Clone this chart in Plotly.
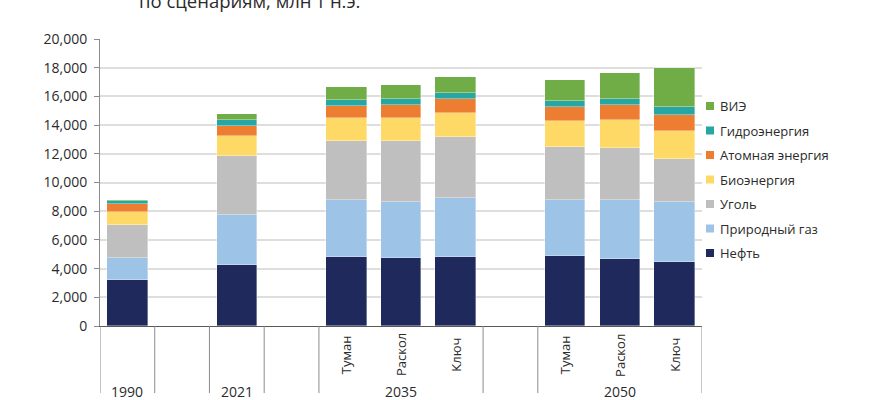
import plotly.graph_objects as go

# ---- data ----
slot_groups = ["1990", "", "2021", "", "2035", "2035", "2035", "", "2050", "2050", "2050"]
slot_subs = ["", "", "", "", "Туман", "Раскол", "Ключ", "", "Туман", "Раскол", "Ключ"]
bar_slots = [0, 2, 4, 5, 6, 8, 9, 10]

series_names = ["Нефть", "Природный газ", "Уголь", "Биоэнергия",
                "Атомная энергия", "Гидроэнергия", "ВИЭ"]
oil = [3210, 4280, 4810, 4745, 4815, 4885, 4675, 4490]
gas = [1560, 3465, 3950, 3930, 4140, 3885, 4095, 4185]
coal = [2300, 4090, 4140, 4235, 4235, 3675, 3605, 2975]
bio = [880, 1420, 1600, 1605, 1675, 1815, 2000, 1930]
nuclear = [560, 650, 815, 885, 975, 1000, 1025, 1140]
hydro = [210, 420, 465, 440, 420, 395, 440, 535]
renew = [70, 440, 860, 955, 1070, 1465, 1770, 2745]
series_values = [oil, gas, coal, bio, nuclear, hydro, renew]

title_text = "по сценариям, млн т н.э."

# ---- style ----
colors = ["#20295b", "#9dc3e6", "#bfbfbf", "#ffd966", "#ed7d31", "#26a7a4", "#70ad47"]
W, H = 870, 400
ML, MR, MT, MB = 100, 168, 39, 74
PW, PH = W - ML - MR, H - MT - MB
FONT = "Open Sans"
TXT = "#2b2b2b"


def xp(px):
    return (px - ML) / PW


def yp(py):
    return (H - MB - py) / PH


fig = go.Figure()
for name, vals, col in zip(series_names, series_values, colors):
    fig.add_trace(go.Bar(
        x=bar_slots, y=vals, name=name, width=0.74,
        marker=dict(color=col, line=dict(color="rgba(255,255,255,0.6)", width=0.6)),
        showlegend=False,
    ))

shapes = []
annotations = []

# group separators and labels
n = len(slot_groups)
bounds = [-0.5]
for i in range(1, n):
    if slot_groups[i] != slot_groups[i - 1] or slot_groups[i] == "":
        bounds.append(i - 0.5)
bounds.append(n - 0.5)
for b in bounds:
    shapes.append(dict(type="line", xref="x", yref="paper", x0=b, x1=b,
                       y0=0, y1=yp(393), line=dict(color="#8c8c8c", width=1)))

seen = set()
for g in slot_groups:
    if g == "" or g in seen:
        continue
    seen.add(g)
    idx = [i for i, s in enumerate(slot_groups) if s == g]
    annotations.append(dict(x=(idx[0] + idx[-1]) / 2, y=yp(392), xref="x", yref="paper",
                            text=g, showarrow=False, xanchor="center", yanchor="middle",
                            font=dict(family=FONT, size=14, color=TXT)))
for i, s in enumerate(slot_subs):
    if s:
        annotations.append(dict(x=i, y=yp(355), xref="x", yref="paper", text=s,
                                textangle=-90, showarrow=False, xanchor="center",
                                yanchor="middle", font=dict(family=FONT, size=13, color=TXT)))

# legend (top item first)
leg_top = 106
leg_step = 24.5
for k, (name, col) in enumerate(zip(reversed(series_names), reversed(colors))):
    cy = leg_top + k * leg_step
    shapes.append(dict(type="rect", xref="paper", yref="paper",
                       x0=xp(706), x1=xp(714), y0=yp(cy + 4), y1=yp(cy - 4),
                       fillcolor=col, line=dict(width=0)))
    annotations.append(dict(x=xp(718), y=yp(cy), xref="paper", yref="paper", text=name,
                            showarrow=False, xanchor="left", yanchor="middle",
                            font=dict(family=FONT, size=13, color=TXT)))

# title (cut at the top as in the reference)
annotations.append(dict(x=xp(249), y=yp(1), xref="paper", yref="paper", text=title_text,
                        showarrow=False, xanchor="center", yanchor="middle",
                        font=dict(family=FONT, size=18.5, color=TXT)))

fig.update_layout(
    width=W, height=H,
    margin=dict(l=ML, r=MR, t=MT, b=MB, pad=0),
    barmode="stack", bargap=0,
    plot_bgcolor="white", paper_bgcolor="white",
    showlegend=False,
    shapes=shapes, annotations=annotations,
    xaxis=dict(range=[-0.5, n - 0.5], showticklabels=False, ticks="", showgrid=False,
               zeroline=False, showline=True, linecolor="#595959", linewidth=1.2,
               fixedrange=True),
    yaxis=dict(range=[0, 20000], dtick=2000, tickformat=",d", showgrid=True,
               gridcolor="#dedede", gridwidth=1.5, zeroline=False, showline=True,
               linecolor="#8c8c8c", linewidth=1, ticks="outside", ticklen=5,
               ticklabelstandoff=4,
               tickcolor="#8c8c8c", tickfont=dict(family=FONT, size=14, color=TXT)),
)

fig.write_html("out.html", config={"displayModeBar": False},
               post_script="document.body.style.margin='0';document.body.style.overflow='hidden';")
